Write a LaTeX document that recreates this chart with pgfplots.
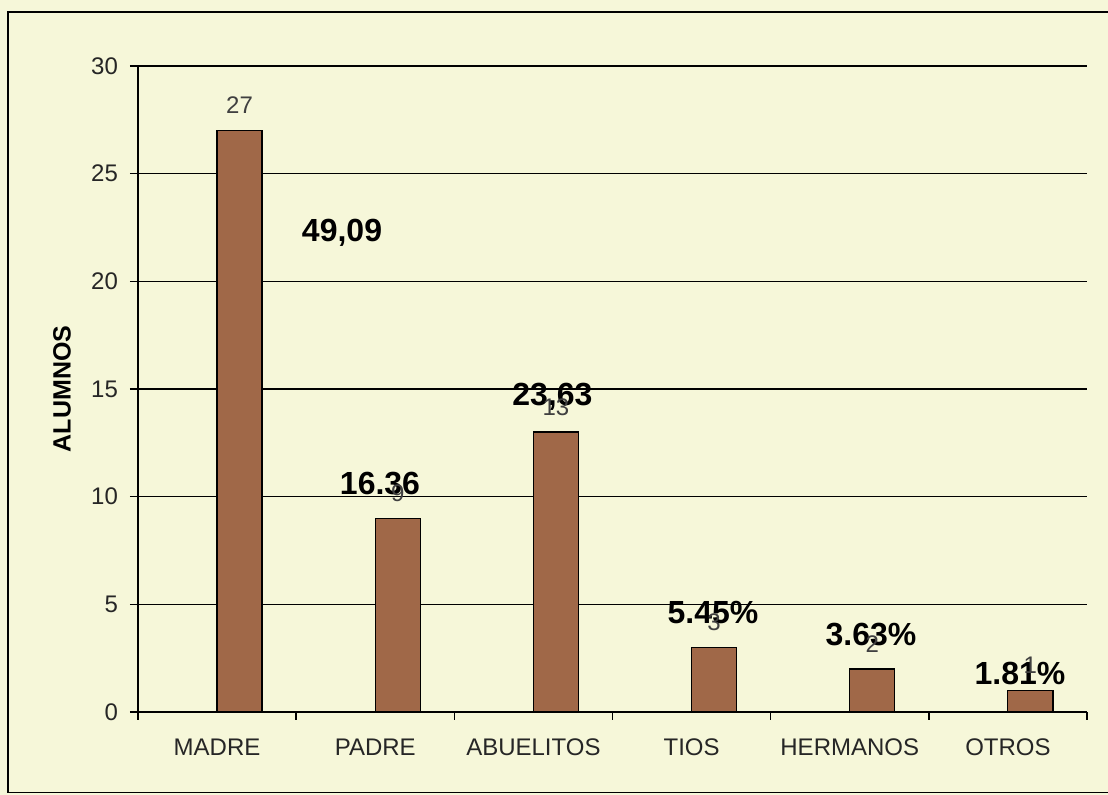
\documentclass[border=0pt]{standalone}
\usepackage{fontspec}
\setmainfont{Liberation Sans}
\usepackage{pgfplots}
\pgfplotsset{compat=1.18}
\definecolor{bg}{RGB}{246,247,217}
\definecolor{barc}{RGB}{160,104,72}
\begin{document}
\begin{tikzpicture}
\useasboundingbox (0pt,0pt) rectangle (554pt,397.5pt);
\fill[bg] (0pt,0pt) rectangle (554pt,397.5pt);
\draw[line width=0.8pt] (560pt,391.5pt) -- (4pt,391.5pt) -- (4pt,1.2pt) -- (560pt,1.2pt);
\begin{axis}[
  at={(69pt,41.5pt)}, anchor=south west,
  scale only axis, width=474.5pt, height=323pt,
  xmin=-0.5, xmax=5.5, ymin=0, ymax=30,
  ytick={0,5,...,30},
  xtick={-0.5,0.5,1.5,2.5,3.5,4.5,5.5},
  x tick label as interval,
  xticklabels={MADRE,PADRE,ABUELITOS,TIOS,HERMANOS,OTROS},
  axis x line=bottom, axis y line=left,
  axis line style={-, line width=0.8pt, black},
  ymajorgrids, grid style={black, line width=0.8pt},
  tick align=outside, major tick length=4pt,
  tick style={black, line width=0.8pt},
  tick label style={font=\fontsize{12}{14}\selectfont, text=black!85},
  yticklabel style={xshift=-2.5pt},
  xticklabel style={yshift=-6pt},
  /pgf/number format/assume math mode=true,
  ylabel={ALUMNOS},
  ylabel style={at={(axis description cs:-0.08,0.5)}, rotate=0, anchor=center, font=\fontsize{12.5}{15}\selectfont\bfseries},
  ybar, bar width=0.285, bar shift=0.142,
  nodes near coords,
  every node near coord/.append style={font=\fontsize{12}{14}\selectfont, text=black!75, inner sep=0pt, yshift=8pt},
  clip=false,
]
\addplot[fill=barc, draw=black, line width=0.6pt] coordinates {(0,27) (1,9) (2,13) (3,3) (4,2) (5,1)};
\node[font=\fontsize{16}{18}\selectfont\bfseries] at (axis cs:0.79,22.25) {49,09};
\node[font=\fontsize{16}{18}\selectfont\bfseries] at (axis cs:1.03,10.59) {16.36};
\node[font=\fontsize{16}{18}\selectfont\bfseries] at (axis cs:2.12,14.63) {23,63};
\node[font=\fontsize{16}{18}\selectfont\bfseries] at (axis cs:3.135,4.64) {5.45\%};
\node[font=\fontsize{16}{18}\selectfont\bfseries] at (axis cs:4.134,3.58) {3.63\%};
\node[font=\fontsize{16}{18}\selectfont\bfseries] at (axis cs:5.076,1.81) {1.81\%};
\end{axis}
\end{tikzpicture}
\end{document}
